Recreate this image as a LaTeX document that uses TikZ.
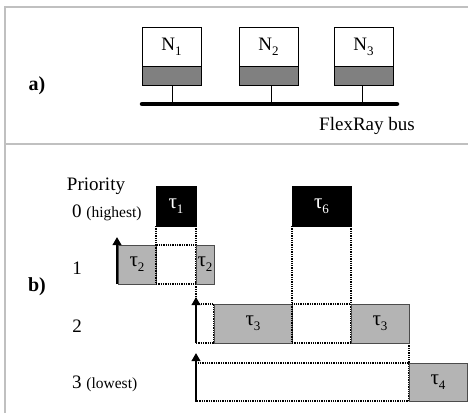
\documentclass[tikz,border=0pt]{standalone}
\usepackage{fontspec}
\setmainfont{Liberation Serif}
\usetikzlibrary{arrows.meta}
\definecolor{framegray}{HTML}{C0C0C0}
\definecolor{nodegray}{HTML}{808080}
\definecolor{taskgray}{HTML}{B4B4B4}
\newcommand{\sub}[1]{\raisebox{-0.28em}{\fontsize{13}{13}\selectfont #1}}
\newcommand{\tsk}[1]{{\fontsize{21}{22}\selectfont τ}\sub{#1}}
\tikzset{
  big/.style={font=\fontsize{19}{22}\selectfont},
  bigbold/.style={font=\fontsize{20}{22}\selectfont\bfseries},
  frameline/.style={draw=framegray,line width=1.6pt},
  nodetop/.style={draw=black,fill=white,line width=0.6pt},
  nodebot/.style={draw=black,fill=nodegray,line width=0.6pt},
  blacktask/.style={draw=black,fill=black,line width=0.6pt},
  graytask/.style={draw=black!70,fill=taskgray,line width=0.6pt},
  dotbox/.style={draw=black,densely dotted,line width=1.3pt},
  prioarrow/.style={draw=black,line width=2.6pt,-{Triangle[width=8.5pt,length=8pt]}},
  stub/.style={draw=black,line width=1pt},
  bus/.style={draw=black,line width=4.5pt,line cap=round}
}
\begin{document}
\begin{tikzpicture}[x=1pt,y=-1pt]
\useasboundingbox (0,0) rectangle (468,413);
% frame
\draw[frameline] (5,413) -- (5,7) -- (468,7);
\draw[frameline] (5,144) -- (468,144);
% panel a
\node[bigbold] (la) at (37,86) {a)};
\foreach \i/\xl/\xr/\xs in {1/142/201/172,2/239/298/271,3/334/393/362}{
  \draw[nodetop] (\xl,27) rectangle (\xr,66);
  \draw[nodebot] (\xl,66) rectangle (\xr,85);
  \node[big] (n\i) at ({(\xl+\xr)/2},46.5) {N\sub{\i}};
  \coordinate (s\i) at (\xs,85);
  \coordinate (b\i) at (\xs,104);
  \draw[stub] (s\i) -- (b\i);
}
\coordinate (busl) at (142,104);
\coordinate (busr) at (397,104);
\draw[bus] (busl) -- (busr);
\node[big] (fr) at (367,126) {FlexRay bus};
% panel b labels
\node[bigbold] (lb) at (37,287) {b)};
\node[big] (prio) at (96,186) {Priority};
\node[anchor=west,inner sep=0pt] (p0) at (72,213) {\fontsize{19}{22}\selectfont 0 \fontsize{15.5}{18}\selectfont(highest)};
\node[big] (p1) at (77,268) {1};
\node[big] (p2) at (77,326) {2};
\node[anchor=west,inner sep=0pt] (p3) at (72,384) {\fontsize{19}{22}\selectfont 3 \fontsize{15.5}{18}\selectfont(lowest)};
% dotted guides
\draw[dotbox] (156,226) -- (156,245);
\draw[dotbox] (196,226) -- (196,245);
\draw[dotbox] (292,226) -- (292,304);
\draw[dotbox] (351,226) -- (351,304);
\draw[dotbox] (196,284) -- (196,298);
\draw[dotbox] (409,343) -- (409,363);
% level 0
\draw[blacktask] (156,186) rectangle (196,226);
\node[big,text=white] (t1) at (176,206) {\tsk{1}};
\draw[blacktask] (292,186) rectangle (351,226);
\node[big,text=white] (t6) at (321.5,206) {\tsk{6}};
% level 1
\draw[graytask] (118,245) rectangle (156,284);
\node[big] (t2a) at (137,264.5) {\tsk{2}};
\draw[dotbox] (156,245) rectangle (196,284);
\draw[graytask] (196,245) rectangle (214,284);
\node[big,inner sep=0pt] (t2b) at (205,264.5) {\tsk{2}};
\coordinate (a1s) at (117,284);
\coordinate (a1e) at (117,237);
\draw[prioarrow] (a1s) -- (a1e);
% level 2
\draw[dotbox] (196,304) rectangle (214,343);
\draw[graytask] (214,304) rectangle (292,343);
\node[big] (t3a) at (253,323.5) {\tsk{3}};
\draw[dotbox] (292,304) rectangle (351,343);
\draw[graytask] (351,304) rectangle (409,343);
\node[big] (t3b) at (380,323.5) {\tsk{3}};
\coordinate (a2s) at (196,343);
\coordinate (a2e) at (196,297);
\draw[prioarrow] (a2s) -- (a2e);
% level 3
\draw[dotbox] (196,363) rectangle (409,401);
\draw[graytask] (409,363) rectangle (467,401);
\node[big] (t4) at (438,382) {\tsk{4}};
\coordinate (a3s) at (196,401);
\coordinate (a3e) at (196,353);
\draw[prioarrow] (a3s) -- (a3e);
\end{tikzpicture}
\end{document}
